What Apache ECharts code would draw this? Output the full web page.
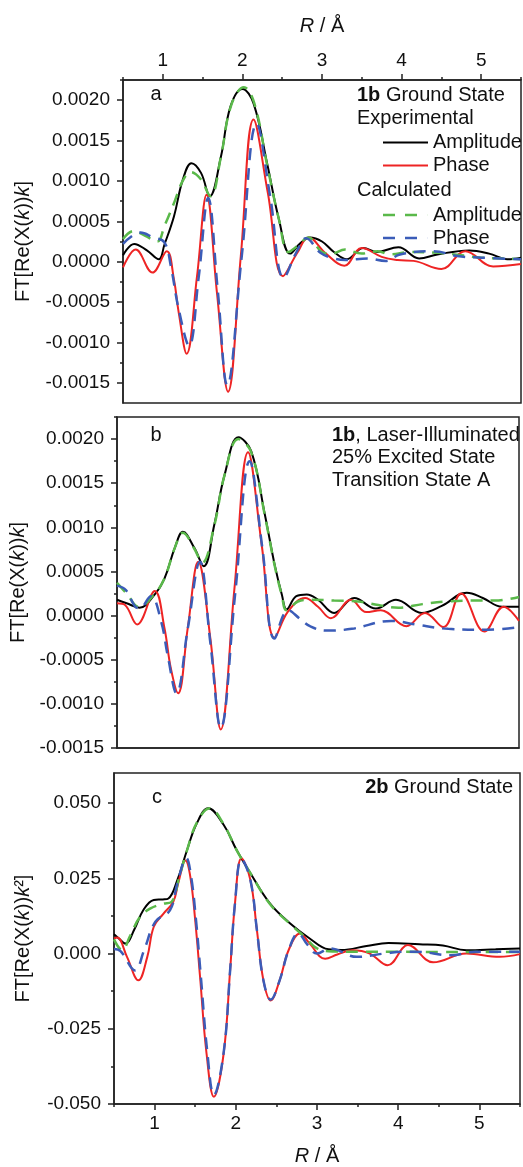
<!DOCTYPE html>
<html><head><meta charset="utf-8">
<script src="https://cdn.jsdelivr.net/npm/echarts@6/dist/echarts.min.js"></script>
<style>html,body{margin:0;padding:0;background:#fff}#c{width:523px;height:1167px}</style>
</head><body><div id="c"></div>
<script>
const FONT = '"Liberation Sans", Arial, Helvetica, sans-serif';

// ---- tick values ----
const xMajorTicks = [1, 2, 3, 4, 5];
const xMinorTicks = [0.5, 1.5, 2.5, 3.5, 4.5, 5.5];
const yTicksAB = [-0.0015, -0.001, -0.0005, 0, 0.0005, 0.001, 0.0015, 0.002];
const yMinorAB = [-0.00125, -0.00075, -0.00025, 0.00025, 0.00075, 0.00125, 0.00175, 0.00225];
const yTicksC = [-0.05, -0.025, 0, 0.025, 0.05];
const yMinorC = [-0.0375, -0.0125, 0.0125, 0.0375];

// ---- panel a: 1b Ground State ----
const aExpAmp = [[0.50,0.00008],[0.64,0.00022],[0.80,0.00014],[0.95,0.00003],[1.02,0.00021],[1.14,0.00056],[1.25,0.00101],[1.36,0.00122],[1.48,0.00110],[1.59,0.00081],[1.73,0.00130],[1.85,0.00192],[2.00,0.00214],[2.14,0.00196],[2.31,0.00122],[2.46,0.00052],[2.60,0.00010],[2.73,0.00023],[2.85,0.00030],[3.00,0.00025],[3.15,0.00012],[3.31,0.00003],[3.52,0.00017],[3.69,0.00012],[3.96,0.00018],[4.22,0.00004],[4.45,0.00009],[4.85,0.00014],[5.10,0.00010],[5.33,0.00003],[5.50,0.00005]];
const aExpPh = [[0.50,-0.00007],[0.66,0.00015],[0.87,-0.000135],[1.05,0.00013],[1.14,-0.00022],[1.20,-0.00063],[1.30,-0.00114],[1.43,-0.00018],[1.55,0.00083],[1.68,-0.00038],[1.82,-0.00161],[1.98,0.00007],[2.14,0.00176],[2.32,0.00085],[2.51,-0.00018],[2.69,0.00011],[2.83,0.00030],[3.05,0.00010],[3.28,-0.00005],[3.50,0.00017],[3.75,0.00006],[3.95,0.00002],[4.15,0.00001],[4.50,-0.00009],[4.80,0.00013],[5.15,-0.00006],[5.50,-0.00003]];
const aCalcAmp = [[0.50,0.00028],[0.63,0.00038],[0.78,0.00032],[0.93,0.00025],[1.02,0.00044],[1.15,0.00075],[1.25,0.00100],[1.35,0.00111],[1.47,0.00103],[1.60,0.00081],[1.73,0.00130],[1.86,0.00194],[2.02,0.00216],[2.15,0.00196],[2.31,0.00120],[2.46,0.00052],[2.58,0.00012],[2.70,0.00020],[2.83,0.00030],[3.00,0.00012],[3.12,0.00010],[3.29,0.00015],[3.50,0.00010],[3.70,0.00013],[3.86,0.00009],[4.10,0.00012],[4.46,0.00011],[4.75,0.00008],[5.00,0.00005],[5.30,0.00004],[5.50,0.00003]];
const aCalcPh = [[0.50,0.00022],[0.72,0.00036],[0.88,0.00030],[1.02,0.00024],[1.10,-0.00005],[1.20,-0.00059],[1.33,-0.00104],[1.45,-0.00020],[1.57,0.00079],[1.69,-0.00035],[1.81,-0.00153],[1.99,0.00005],[2.18,0.00171],[2.35,0.00080],[2.52,-0.00020],[2.68,0.00012],[2.80,0.00029],[2.98,0.00011],[3.15,0.00004],[3.30,0.00002],[3.57,0.00004],[3.80,0.00001],[3.98,0.00009],[4.40,0.00013],[4.70,0.00007],[5.00,0.00005],[5.50,0.00003]];

// ---- panel b: 1b, Laser-Illuminated ----
const bExpAmp = [[0.50,0.00018],[0.62,0.00014],[0.78,0.00009],[0.97,0.00024],[1.09,0.00042],[1.22,0.00077],[1.32,0.00095],[1.46,0.00077],[1.58,0.00056],[1.71,0.00103],[1.84,0.00160],[2.01,0.00202],[2.17,0.00186],[2.34,0.00114],[2.46,0.00058],[2.55,0.00024],[2.61,0.00007],[2.73,0.00022],[2.86,0.00024],[3.00,0.00018],[3.20,0.00003],[3.45,0.00020],[3.72,0.00008],[3.97,0.00018],[4.29,0.00003],[4.54,0.00011],[4.85,0.00026],[5.05,0.00020],[5.29,0.00010],[5.50,0.00010]];
const bExpPh = [[0.50,0.00014],[0.60,0.00012],[0.75,-0.00010],[0.97,0.00028],[1.09,-0.00014],[1.17,-0.00060],[1.26,-0.00088],[1.38,-0.00014],[1.51,0.00061],[1.66,-0.00025],[1.79,-0.00129],[1.96,0.00030],[2.13,0.00185],[2.30,0.00080],[2.46,-0.00025],[2.63,0.00005],[2.84,0.00020],[3.00,0.00010],[3.16,-0.00003],[3.41,0.00018],[3.60,0.00004],[3.78,0.00006],[4.10,-0.00012],[4.33,0.00003],[4.56,-0.00013],[4.78,0.00025],[5.07,-0.00018],[5.31,0.00010],[5.50,-0.00006]];
const bCalcAmp = [[0.50,0.00037],[0.62,0.00025],[0.77,0.00010],[0.97,0.00025],[1.09,0.00042],[1.22,0.00077],[1.32,0.00094],[1.46,0.00076],[1.56,0.00060],[1.71,0.00102],[1.84,0.00160],[2.01,0.00200],[2.17,0.00185],[2.34,0.00113],[2.46,0.00057],[2.55,0.00023],[2.61,0.00006],[2.75,0.00016],[2.90,0.00018],[3.20,0.00017],[3.50,0.00016],[3.75,0.00012],[4.00,0.00009],[4.30,0.00013],[4.60,0.00016],[4.90,0.00017],[5.20,0.00017],[5.50,0.00021]];
const bCalcPh = [[0.50,0.00034],[0.61,0.00029],[0.72,0.00011],[0.78,0.00008],[0.92,0.00022],[1.05,-0.00007],[1.13,-0.00045],[1.24,-0.00088],[1.38,-0.00015],[1.53,0.00061],[1.66,-0.00030],[1.79,-0.00127],[1.97,0.00025],[2.15,0.00175],[2.31,0.00075],[2.46,-0.00026],[2.63,0.00006],[2.78,-0.00004],[2.90,-0.00012],[3.10,-0.00017],[3.42,-0.00015],[3.91,-0.00006],[4.21,-0.00010],[4.62,-0.00015],[5.12,-0.00016],[5.50,-0.00013]];

// ---- panel c: 2b Ground State ----
const cExpAmp = [[0.50,0.0064],[0.56,0.0050],[0.64,0.0033],[0.75,0.0080],[0.86,0.0144],[0.99,0.0178],[1.10,0.0180],[1.17,0.0183],[1.28,0.0244],[1.40,0.0344],[1.52,0.0433],[1.66,0.0483],[1.85,0.0428],[2.01,0.0344],[2.18,0.0267],[2.42,0.0167],[2.67,0.0100],[2.91,0.0050],[3.14,0.0014],[3.30,0.0012],[3.61,0.0025],[3.88,0.0035],[4.26,0.0031],[4.55,0.0027],[4.84,0.0011],[5.20,0.0014],[5.50,0.0017]];
const cExpPh = [[0.50,0.0050],[0.54,0.0053],[0.66,-0.0011],[0.80,-0.0089],[0.91,-0.0011],[0.99,0.0089],[1.11,0.0133],[1.23,0.0172],[1.29,0.0233],[1.38,0.0309],[1.44,0.0255],[1.50,0.0111],[1.56,-0.0078],[1.64,-0.0333],[1.73,-0.0476],[1.85,-0.0333],[1.93,-0.0056],[1.99,0.0167],[2.07,0.0317],[2.18,0.0244],[2.26,0.0078],[2.34,-0.0089],[2.43,-0.0156],[2.54,-0.0089],[2.65,0.0011],[2.79,0.0067],[2.91,0.0033],[3.10,-0.0017],[3.25,-0.0003],[3.44,0.0011],[3.65,0.0000],[3.87,-0.0039],[4.12,0.0028],[4.43,-0.0029],[4.84,0.0000],[5.25,-0.0011],[5.50,-0.0002]];
const cCalcAmp = [[0.50,0.0047],[0.60,0.0011],[0.70,0.0060],[0.82,0.0122],[0.95,0.0150],[1.10,0.0165],[1.21,0.0172],[1.30,0.0250],[1.40,0.0344],[1.52,0.0435],[1.68,0.0483],[1.85,0.0430],[2.01,0.0344],[2.18,0.0267],[2.42,0.0165],[2.67,0.0098],[2.85,0.0055],[3.00,0.0017],[3.20,0.0007],[3.60,0.0006],[4.00,0.0006],[4.50,0.0005],[5.00,0.0005],[5.50,0.0005]];
const cCalcPh = [[0.50,0.0015],[0.58,0.0008],[0.76,-0.0056],[0.87,0.0011],[1.01,0.0106],[1.19,0.0144],[1.28,0.0233],[1.39,0.0317],[1.45,0.0255],[1.51,0.0111],[1.57,-0.0078],[1.65,-0.0330],[1.73,-0.0470],[1.85,-0.0330],[1.93,-0.0056],[1.99,0.0167],[2.07,0.0314],[2.18,0.0244],[2.26,0.0078],[2.34,-0.0089],[2.43,-0.0153],[2.54,-0.0089],[2.65,0.0011],[2.77,0.0067],[2.88,0.0030],[3.00,0.0000],[3.16,0.0017],[3.49,-0.0011],[3.83,0.0000],[4.10,0.0006],[4.22,0.0006],[4.65,-0.0006],[4.95,0.0006],[5.50,0.0006]];

const legendNames = {'a-exp-amp':'Amplitude','a-exp-ph':'Phase','a-calc-amp':'Amplitude','a-calc-ph':'Phase'};

const C_BLACK = '#000000', C_RED = '#ee2424', C_GREEN = '#5ab94a', C_BLUE = '#3b5cb8';
const AX = '#222';
const TXT = '#111';

// legend icons: a solid line and a dashed line (path spans the full icon box)
const ICON_SOLID = 'path://M0,0h45v2h-45z';
const ICON_DASH = 'path://M0,0h12v2.5h-12z M22,0h12v2.5h-12z M44.9,0h0.1v2.5h-0.1z';

function xMajor(grid, pos, withName, nameGap) {
  return {
    type:'value', gridIndex:grid, position:pos, min:0.5, max:5.5,
    splitLine:{show:false},
    axisLine:{show:true, onZero:false, lineStyle:{color:AX, width:1.5}},
    axisTick:{show:true, customValues:xMajorTicks, length:6, lineStyle:{color:AX, width:1.5}},
    axisLabel:{show:true, customValues:xMajorTicks, fontSize:19, fontFamily:FONT, color:TXT, margin:10},
    name: withName ? '{i|R} / Å' : '', nameLocation:'middle', nameGap:nameGap,
    nameTextStyle:{fontSize:20, fontFamily:FONT, color:TXT, rich:{i:{fontStyle:'italic', fontSize:20, fontFamily:FONT, color:TXT}}}
  };
}
function xMinor(grid, pos) {
  return {
    type:'value', gridIndex:grid, position:pos, min:0.5, max:5.5,
    splitLine:{show:false}, axisLine:{show:false, onZero:false},
    axisTick:{show:true, customValues:xMinorTicks, length:3, lineStyle:{color:AX, width:1.5}},
    axisLabel:{show:false}
  };
}
function yMajor(grid, min, max, ticks, digits, name, nameGap) {
  return {
    type:'value', gridIndex:grid, position:'left', min:min, max:max,
    splitLine:{show:false},
    axisLine:{show:true, onZero:false, lineStyle:{color:AX, width:1.5}},
    axisTick:{show:true, customValues:ticks, length:6, lineStyle:{color:AX, width:1.5}},
    axisLabel:{show:true, customValues:ticks, fontSize:19, fontFamily:FONT, color:TXT, margin:13,
      formatter:(v)=> (Math.abs(v) < 1e-12 ? 0 : v).toFixed(digits)},
    name:name, nameLocation:'middle', nameGap:nameGap,
    nameTextStyle:{fontSize:20, fontFamily:FONT, color:TXT, rich:{i:{fontStyle:'italic', fontSize:20, fontFamily:FONT, color:TXT}}}
  };
}
function yMinor(grid, min, max, ticks) {
  return {
    type:'value', gridIndex:grid, position:'left', min:min, max:max,
    splitLine:{show:false}, axisLine:{show:false, onZero:false},
    axisTick:{show:true, customValues:ticks, length:3, lineStyle:{color:AX, width:1.5}},
    axisLabel:{show:false}
  };
}
function ser(name, data, color, dashed, xi, yi) {
  return {
    type:'line', name:name, data:data, xAxisIndex:xi, yAxisIndex:yi,
    symbol:'none', smooth:0.4, clip:true, silent:true,
    itemStyle:{color:color},
    lineStyle:{color:color, width: dashed ? 2.5 : 2, type: dashed ? [12, 8] : 'solid'},
    z: dashed ? 3 : 2
  };
}

const yName = 'FT[Re(X({i|k})){i|k}]';
const yNameC = 'FT[Re(X({i|k})){i|k}²]';
const gridBox = {show:true, borderColor:AX, borderWidth:1.5, backgroundColor:'transparent'};

const legendCommon = {orient:'vertical', left:383, padding:0, itemGap:0, itemWidth:45, itemHeight:2.5,
  selectedMode:false, formatter:(n)=>legendNames[n],
  textStyle:{fontSize:20, lineHeight:23, fontFamily:FONT, color:TXT}};

function legendItem(name, icon, color) {
  return {name:name, icon:icon, itemStyle:{color:color, borderWidth:0, opacity:1}};
}

const option = {
  animation:false,
  backgroundColor:'#ffffff',
  textStyle:{fontFamily:FONT},
  grid:[
    Object.assign({left:123, top:80, width:398, height:323}, gridBox),
    Object.assign({left:117, top:417, width:402, height:331}, gridBox),
    Object.assign({left:114, top:773, width:406, height:331}, gridBox)
  ],
  xAxis:[
    xMajor(0, 'top', true, 44),
    xMinor(0, 'top'),
    {type:'value', gridIndex:1, position:'bottom', min:0.5, max:5.5, splitLine:{show:false},
     axisLine:{show:true, onZero:false, lineStyle:{color:AX, width:1.5}}, axisTick:{show:false}, axisLabel:{show:false}},
    xMajor(2, 'bottom', true, 42),
    xMinor(2, 'bottom')
  ],
  yAxis:[
    yMajor(0, -0.00175, 0.00225, yTicksAB, 4, yName, 90),
    yMinor(0, -0.00175, 0.00225, yMinorAB),
    yMajor(1, -0.0015, 0.00225, yTicksAB, 4, yName, 84),
    yMinor(1, -0.0015, 0.00225, yMinorAB),
    yMajor(2, -0.05, 0.06, yTicksC, 3, yNameC, 81),
    yMinor(2, -0.05, 0.06, yMinorC)
  ],
  legend:[
    Object.assign({}, legendCommon, {top:131,
      data:[legendItem('a-exp-amp', ICON_SOLID, C_BLACK), legendItem('a-exp-ph', ICON_SOLID, C_RED)]}),
    Object.assign({}, legendCommon, {top:203.5,
      data:[legendItem('a-calc-amp', ICON_DASH, C_GREEN), legendItem('a-calc-ph', ICON_DASH, C_BLUE)]})
  ],
  graphic:[
    {type:'text', x:156, y:94, style:{text:'a', fontSize:20, fontFamily:FONT, fill:TXT, align:'center', verticalAlign:'middle'}},
    {type:'text', x:357, y:95, style:{text:'{b|1b} Ground State', fontSize:20, fontFamily:FONT, fill:TXT, align:'left', verticalAlign:'middle',
      rich:{b:{fontWeight:'bold', fontSize:20, fontFamily:FONT, fill:TXT}}}},
    {type:'text', x:357, y:118.5, style:{text:'Experimental', fontSize:20, fontFamily:FONT, fill:TXT, align:'left', verticalAlign:'middle'}},
    {type:'text', x:357, y:190, style:{text:'Calculated', fontSize:20, fontFamily:FONT, fill:TXT, align:'left', verticalAlign:'middle'}},
    {type:'text', x:156, y:435, style:{text:'b', fontSize:20, fontFamily:FONT, fill:TXT, align:'center', verticalAlign:'middle'}},
    {type:'text', x:332, y:435, style:{text:'{b|1b}, Laser-Illuminated', fontSize:20, fontFamily:FONT, fill:TXT, align:'left', verticalAlign:'middle',
      rich:{b:{fontWeight:'bold', fontSize:20, fontFamily:FONT, fill:TXT}}}},
    {type:'text', x:332, y:457.5, style:{text:'25% Excited State', fontSize:20, fontFamily:FONT, fill:TXT, align:'left', verticalAlign:'middle'}},
    {type:'text', x:332, y:480, style:{text:'Transition State A', fontSize:20, fontFamily:FONT, fill:TXT, align:'left', verticalAlign:'middle'}},
    {type:'text', x:157, y:797, style:{text:'c', fontSize:20, fontFamily:FONT, fill:TXT, align:'center', verticalAlign:'middle'}},
    {type:'text', x:513, y:787, style:{text:'{b|2b} Ground State', fontSize:20, fontFamily:FONT, fill:TXT, align:'right', verticalAlign:'middle',
      rich:{b:{fontWeight:'bold', fontSize:20, fontFamily:FONT, fill:TXT}}}}
  ],
  series:[
    ser('a-exp-amp', aExpAmp, C_BLACK, false, 0, 0),
    ser('a-exp-ph', aExpPh, C_RED, false, 0, 0),
    ser('a-calc-amp', aCalcAmp, C_GREEN, true, 0, 0),
    ser('a-calc-ph', aCalcPh, C_BLUE, true, 0, 0),
    ser('b-exp-amp', bExpAmp, C_BLACK, false, 2, 2),
    ser('b-exp-ph', bExpPh, C_RED, false, 2, 2),
    ser('b-calc-amp', bCalcAmp, C_GREEN, true, 2, 2),
    ser('b-calc-ph', bCalcPh, C_BLUE, true, 2, 2),
    ser('c-exp-amp', cExpAmp, C_BLACK, false, 3, 4),
    ser('c-exp-ph', cExpPh, C_RED, false, 3, 4),
    ser('c-calc-amp', cCalcAmp, C_GREEN, true, 3, 4),
    ser('c-calc-ph', cCalcPh, C_BLUE, true, 3, 4)
  ]
};

const chart = echarts.init(document.getElementById('c'), null, {renderer:'canvas'});
chart.setOption(option);
</script>
</body></html>
